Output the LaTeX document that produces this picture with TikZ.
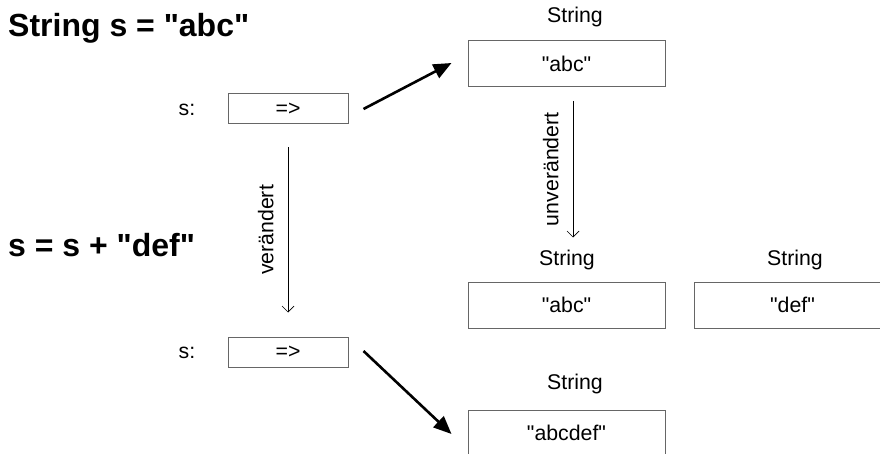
\documentclass[tikz,border=0pt]{standalone}
\usepackage{fontspec}
\setmainfont{Liberation Sans}[Ligatures=TeXOff]
\usetikzlibrary{arrows.meta}
\tikzset{
  title/.style={font=\fontsize{32}{36}\selectfont\bfseries, anchor=base west, inner sep=0pt},
  lbl/.style={font=\fontsize{21.3}{24}\selectfont, inner sep=0pt},
  refbox/.style={draw=black!60, line width=1pt, minimum width=120pt, minimum height=30pt, inner sep=0pt, font=\fontsize{21.3}{24}\selectfont},
  objbox/.style={draw=black!60, line width=1pt, minimum width=197pt, minimum height=46pt, inner sep=0pt, font=\fontsize{21.3}{24}\selectfont},
  bigarrow/.style={line width=2.6pt, -{Triangle[length=18pt,width=15pt]}},
  thinarrow/.style={line width=0.7pt, -{Straight Barb[length=6pt,width=12pt]}},
}
\begin{document}
\begin{tikzpicture}[x=1pt,y=-1pt]
\useasboundingbox (0,0) rectangle (880,454);
% titles
\node[title] (t1) at (8,37) {String s = "abc"};
\node[title] (t2) at (8,257) {s = s + "def"};
% reference boxes
\node[lbl] (s1) at (187,110) {s:};
\node[refbox] (b1) at (288,109) {=>};
\node[lbl] (s2) at (187,353) {s:};
\node[refbox] (b2) at (288,352) {=>};
% objects
\node[lbl] (l1) at (575,17) {String};
\node[objbox] (o1) at (566.5,63.5) {"abc"};
\node[lbl] (l2) at (567,260) {String};
\node[objbox] (o2) at (566.5,305) {"abc"};
\node[lbl] (l3) at (795,260) {String};
\node[objbox] (o3) at (792.5,305) {"def"};
\node[lbl] (l4) at (575,384) {String};
\node[objbox] (o4) at (566.5,433) {"abcdef"};
% arrows
\draw[bigarrow] ([xshift=15pt]b1.east) -- ([xshift=-16pt,yshift=0.5pt]o1.west);
\draw[bigarrow] ([xshift=15pt,yshift=1pt]b2.east) -- ([xshift=-16pt,yshift=-1pt]o4.west);
\draw[thinarrow] ([yshift=-23pt]b1.south) -- node[lbl, rotate=90, anchor=south, yshift=14pt] {verändert} ([yshift=24pt]b2.north);
\draw[thinarrow] ([xshift=6.5pt,yshift=-14pt]o1.south) -- node[lbl, rotate=90, anchor=south, yshift=14pt] {unverändert} ([xshift=6.5pt,yshift=44pt]o2.north);
\end{tikzpicture}
\end{document}
